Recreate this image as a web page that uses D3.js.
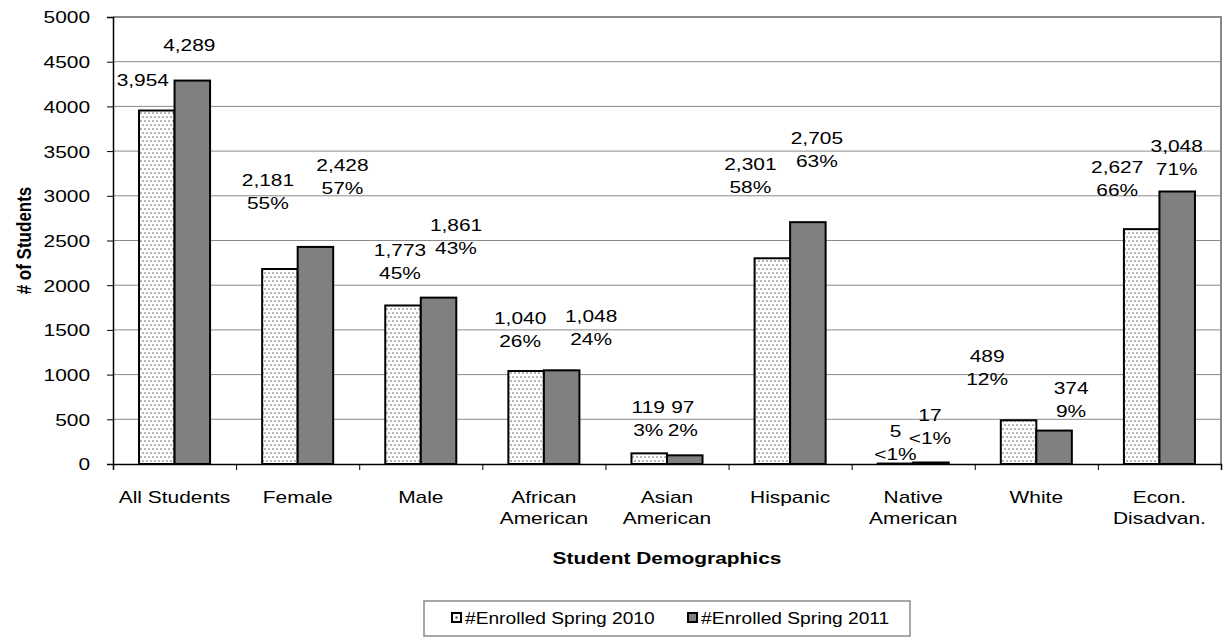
<!DOCTYPE html>
<html>
<head>
<meta charset="utf-8">
<script src="https://cdn.jsdelivr.net/npm/d3@7"></script>
<style>
  html, body { margin: 0; padding: 0; background: #fff; }
  svg { display: block; font-family: "Liberation Sans", Arial, sans-serif; }
</style>
</head>
<body>
<svg id="chart" width="1225" height="641"></svg>
<script>
// Enrollment by student group, two spring terms
const categories = [
  ["All Students"], ["Female"], ["Male"], ["African", "American"],
  ["Asian", "American"], ["Hispanic"], ["Native", "American"], ["White"],
  ["Econ.", "Disadvan."]
];
const seriesNames = ["#Enrolled Spring 2010", "#Enrolled Spring 2011"];
const enrolled2010 = [3954, 2181, 1773, 1040, 119, 2301, 5, 489, 2627];
const enrolled2011 = [4289, 2428, 1861, 1048, 97, 2705, 17, 374, 3048];
const share2010 = [null, "55%", "45%", "26%", "3%", "58%", "<1%", "12%", "66%"];
const share2011 = [null, "57%", "43%", "24%", "2%", "63%", "<1%", "9%", "71%"];
const yTicks = [0, 500, 1000, 1500, 2000, 2500, 3000, 3500, 4000, 4500, 5000];

// hand-placed label nudges (dx, dy of first line from the bar's top centre)
const labelNudge2010 = [[-14,-24.5],[-12,-83],[-3,-49.5],[-6,-47],[-1,-40.4],[-22,-88],[0,-27],[-31.5,-58],[-24.5,-56]];
const labelNudge2011 = [[-3,-30],[27,-76],[17.5,-66.6],[29.5,-48],[-2,-42.3],[9,-78],[-1,-41],[17,-36.6],[-0.5,-40]];

const SX = 1.23;        // horizontal text stretch
const FS = 17;          // base font size
const LINE = 23;        // label line spacing

const svg = d3.select("#chart");
const plot = { left: 113, top: 17, right: 1221, bottom: 464 };

const x0 = d3.scaleBand()
  .domain(d3.range(categories.length))
  .range([plot.left, plot.right])
  .paddingInner(0.423).paddingOuter(0.2115);
const x1 = d3.scaleBand().domain([0, 1]).range([0, x0.bandwidth()]);
const y = d3.scaleLinear().domain([0, 5000]).range([plot.bottom, plot.top]);

// dotted fill
const defs = svg.append("defs");
const pat = defs.append("pattern").attr("id", "dots")
  .attr("patternUnits", "userSpaceOnUse").attr("width", 8).attr("height", 8);
pat.append("rect").attr("width", 8).attr("height", 8).attr("fill", "#fff");
[[1,1],[5,1],[3,5],[7,5]].forEach(([cx, cy]) =>
  pat.append("rect").attr("x", cx - 0.6).attr("y", cy - 0.6)
    .attr("width", 1.3).attr("height", 1.3).attr("fill", "#555"));

function stretchedText(g, x, yy, str, opts = {}) {
  return g.append("text")
    .attr("transform", `translate(${x},${yy}) scale(${opts.sx || SX},1)`)
    .attr("text-anchor", opts.anchor || "middle")
    .attr("font-size", opts.size || FS)
    .attr("font-weight", opts.weight || "normal")
    .attr("fill", "#000")
    .text(str);
}

// grid lines
svg.append("g").selectAll("line")
  .data(yTicks.filter(t => t > 0 && t < 5000))
  .join("line")
  .attr("x1", plot.left).attr("x2", plot.right)
  .attr("y1", d => y(d)).attr("y2", d => y(d))
  .attr("stroke", "#8a8a8a").attr("stroke-width", 1);

// plot frame (top & right)
svg.append("path")
  .attr("d", `M${plot.left},${plot.top}H${plot.right}V${plot.bottom}`)
  .attr("fill", "none").attr("stroke", "#8a8a8a").attr("stroke-width", 2);

// bars
const series = [enrolled2010, enrolled2011];
const fills = ["url(#dots)", "#808080"];
series.forEach((vals, s) => {
  svg.append("g").selectAll("rect")
    .data(vals)
    .join("rect")
    .attr("x", (d, i) => x0(i) + x1(s))
    .attr("y", d => y(d))
    .attr("width", x1.bandwidth())
    .attr("height", d => y(0) - y(d))
    .attr("fill", fills[s])
    .attr("stroke", "#000").attr("stroke-width", 2);
});

// y axis
const yAxis = svg.append("g")
  .attr("transform", `translate(${plot.left},0)`)
  .call(d3.axisLeft(y).tickValues(yTicks).tickSize(6).tickFormat(d3.format("d")));
yAxis.select(".domain").attr("stroke", "#000").attr("stroke-width", 1.5);
yAxis.selectAll(".tick line").attr("stroke", "#000");
yAxis.selectAll(".tick text")
  .attr("font-size", FS).attr("font-family", "Liberation Sans, Arial, sans-serif")
  .attr("fill", "#000")
  .attr("x", -23 / SX).attr("dy", "0.35em")
  .attr("transform", `scale(${SX},1)`);

// x axis with ticks between categories
const xEdges = d3.scaleLinear().domain([0, categories.length]).range([plot.left, plot.right]);
const xAxis = svg.append("g")
  .attr("transform", `translate(0,${plot.bottom})`)
  .call(d3.axisBottom(xEdges).ticks(categories.length).tickSize(6).tickFormat(""));
xAxis.select(".domain").attr("stroke", "#000").attr("stroke-width", 1.5);
xAxis.selectAll(".tick line").attr("stroke", "#000");

// category labels
const catG = svg.append("g");
categories.forEach((lines, i) => {
  const cx = x0(i) + x0.bandwidth() / 2;
  lines.forEach((ln, k) => stretchedText(catG, cx, 503 + k * 21, ln));
});

// data labels
const lblG = svg.append("g");
[[enrolled2010, share2010, labelNudge2010], [enrolled2011, share2011, labelNudge2011]]
  .forEach(([vals, shares, nudge], s) => {
    vals.forEach((v, i) => {
      const cx = x0(i) + x1(s) + x1.bandwidth() / 2 + nudge[i][0];
      const cy = y(v) + nudge[i][1];
      stretchedText(lblG, cx, cy, d3.format(",")(v));
      if (shares[i]) stretchedText(lblG, cx, cy + LINE, shares[i]);
    });
  });

// axis titles
stretchedText(svg, (plot.left + plot.right) / 2, 564, "Student Demographics", { weight: "bold" });
svg.append("text")
  .attr("transform", `translate(31,${(plot.top + plot.bottom) / 2}) rotate(-90) scale(1,${SX})`)
  .attr("text-anchor", "middle").attr("font-size", FS).attr("font-weight", "bold")
  .text("# of Students");

// legend
const legend = svg.append("g");
legend.append("rect")
  .attr("x", 424).attr("y", 601).attr("width", 486).attr("height", 35)
  .attr("fill", "#fff").attr("stroke", "#8a8a8a").attr("stroke-width", 1.5);
const legX = [452, 688];
seriesNames.forEach((name, s) => {
  legend.append("rect")
    .attr("x", legX[s]).attr("y", 613).attr("width", 9).attr("height", 9)
    .attr("fill", s === 0 ? "#fff" : "#808080")
    .attr("stroke", "#000").attr("stroke-width", 2);
  if (s === 0) legend.append("rect").attr("x", legX[s] + 3.5).attr("y", 616.5)
    .attr("width", 2).attr("height", 2).attr("fill", "#333");
  stretchedText(legend, legX[s] + 13, 624, name, { anchor: "start", size: 15.6 });
});
</script>
</body>
</html>
